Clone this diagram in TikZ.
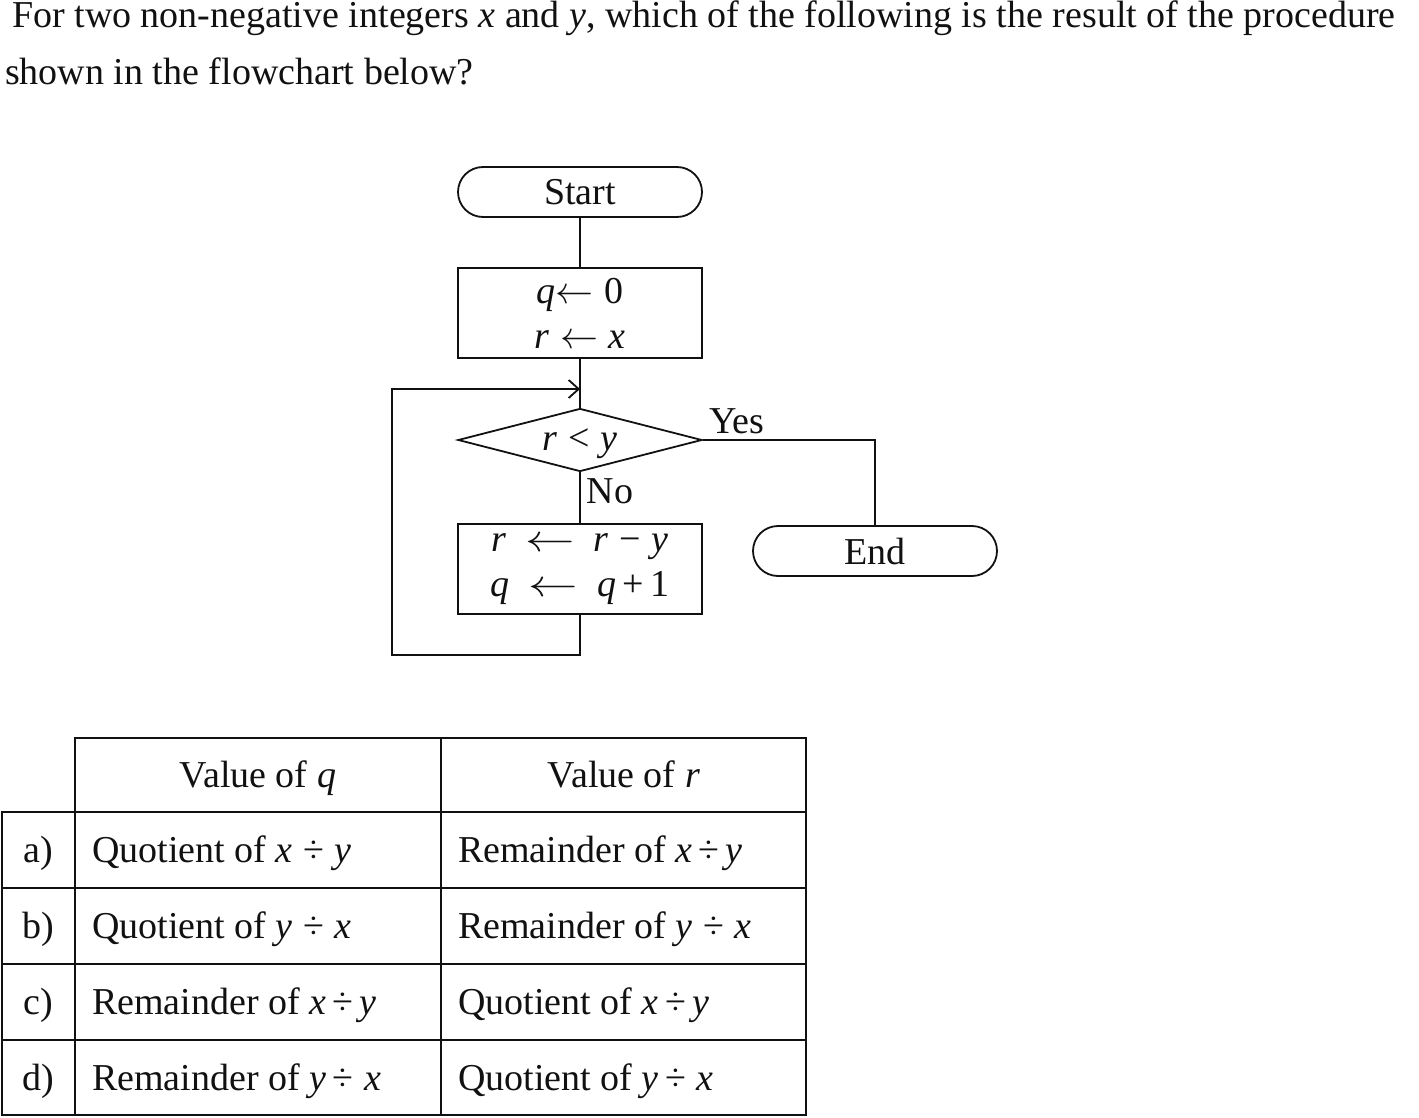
\RequirePackage{fix-cm}
\documentclass[tikz,border=0pt]{standalone}
\usepackage{fontspec}
\setmainfont{Liberation Serif}
\usetikzlibrary{arrows.meta,positioning,shapes.geometric}
\definecolor{Ink}{HTML}{111111}
\newcommand{\mv}[1]{\textit{#1}}
\newcommand{\assign}{$\leftarrow$}
\tikzset{
  base/.style={font=\fontsize{38}{45}\selectfont,text=Ink},
  terminal/.style={base,draw=Ink,line width=1.8pt,rectangle,rounded corners=25pt,minimum width=244pt,minimum height=50pt,inner sep=0pt},
  process/.style={base,draw=Ink,line width=1.8pt,rectangle,minimum width=244pt,minimum height=90pt,inner sep=0pt,align=center},
  decision/.style={base,draw=Ink,line width=1.8pt,diamond,aspect=3.87,minimum width=244pt,minimum height=63pt,inner sep=0pt},
  flow/.style={draw=Ink,line width=1.8pt},
  grid/.style={draw=Ink,line width=2.2pt},
  cell/.style={base,anchor=base west,inner sep=0pt},
}

\begin{document}
\begin{tikzpicture}[x=1pt,y=-1pt]
  \useasboundingbox (0,0) rectangle (1419,1118);
  % question text
  \node[cell] (title1) at (12,28) {For two non-negative integers \mv{x} and \mv{y}, which of the following is the result of the procedure};
  \node[cell] (title2) at (5,85) {shown in the flowchart below?};

  % flowchart
  \node[terminal] (start) at (580,192) {Start};
  \node[process] (init) at (580,313) {\mv{q}\assign\;0\\\mv{r}\;\assign\;\mv{x}};
  \node[decision,text depth=0pt] (test) at (580,440) {\mv{r}\;<\;\mv{y}};
  \node[process] (update) at (580,569) {\mv{r}\enspace\scalebox{1.3}[1]{\assign}\enspace\mv{r}\;−\;\mv{y}\\\mv{q}\enspace\scalebox{1.3}[1]{\assign}\enspace\mv{q}\,+\,1};
  \node[terminal] (stop) at (875,551) {End};
  \node[base,inner sep=0pt] (yeslbl) at (737,421) {Yes};
  \node[base,inner sep=0pt] (nolbl) at (610,491) {No};
  \coordinate (merge) at (580,389);
  \coordinate (loopcorner) at (392,655);

  \draw[flow] (start) -- (init);
  \draw[flow] (init) -- (test);
  \draw[flow] (test.east) -| (stop.north);
  \draw[flow] (test.south) -- (update.north);
  \draw[flow,-{Straight Barb[length=10pt,width=18pt,line width=1.8pt]}] (update.south) |- (loopcorner) |- (merge);

  % answer table
  \draw[grid] (75,738) rectangle (806,1115);
  \draw[grid] (2,812) rectangle (806,1115);
  \draw[grid] (441,738) -- (441,1115);
  \foreach \y in {888,964,1040} \draw[grid] (2,\y) -- (806,\y);
  \node[base,anchor=base] (headq) at (258,787) {Value of \mv{q}};
  \node[base,anchor=base] (headr) at (624,787) {Value of \mv{r}};
  \foreach \lab/\qv/\rv [count=\i from 0] in {
      a)/{Quotient of \mv{x}\;÷\;\mv{y}}/{Remainder of \mv{x}\,÷\,\mv{y}},
      b)/{Quotient of \mv{y}\;÷\;\mv{x}}/{Remainder of \mv{y}\;÷\;\mv{x}},
      c)/{Remainder of \mv{x}\,÷\,\mv{y}}/{Quotient of \mv{x}\,÷\,\mv{y}},
      d)/{Remainder of \mv{y}\,÷\;\mv{x}}/{Quotient of \mv{y}\,÷\;\mv{x}}} {
    \node[base,anchor=base] (lab\i) at (38,862+76*\i) {\lab};
    \node[cell] (qv\i) at (92,862+76*\i) {\qv};
    \node[cell] (rv\i) at (458,862+76*\i) {\rv};
  }
\end{tikzpicture}
\end{document}
